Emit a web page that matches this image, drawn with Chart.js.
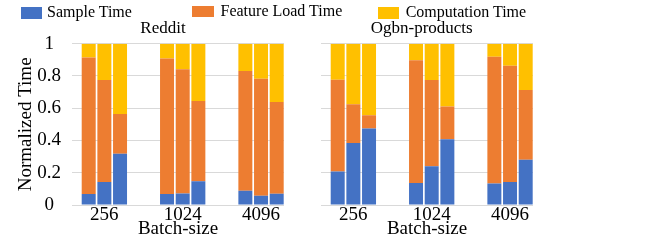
<!DOCTYPE html>
<html>
<head>
<meta charset="utf-8">
<script src="https://cdn.jsdelivr.net/npm/chart.js@4.4.1/dist/chart.umd.min.js"></script>
<style>
  body { margin: 0; background: #fff; }
  #wrap { position: relative; width: 659px; height: 249px; overflow: hidden; background: #fff; }
  canvas { position: absolute; top: 0; }
  .lg-box { position: absolute; }
  .lg-text { position: absolute; font: 16px/16px 'Liberation Serif', 'Times New Roman', serif; color: #000; white-space: nowrap; }
</style>
</head>
<body>
<div id="wrap">
  <canvas id="reddit-chart" width="326" height="249" style="left:0px"></canvas>
  <canvas id="ogbn-chart" width="233" height="249" style="left:300px"></canvas>
</div>
<script>
// Dati (tempo normalizzato, 3 barre per ogni batch-size)
const batchSizes = ['256', '1024', '4096'];
const seriesNames = ['Sample Time', 'Feature Load Time', 'Computation Time'];
const seriesColors = ['#4472C4', '#ED7D31', '#FFC000'];

const redditSample  = [0.068, 0.143, 0.318, 0.068, 0.072, 0.147, 0.089, 0.058, 0.070];
const redditFeature = [0.847, 0.632, 0.246, 0.841, 0.769, 0.498, 0.742, 0.725, 0.568];
const redditCompute = [0.085, 0.225, 0.436, 0.091, 0.159, 0.355, 0.169, 0.217, 0.362];

const ogbnSample  = [0.207, 0.384, 0.475, 0.136, 0.240, 0.407, 0.134, 0.143, 0.281];
const ogbnFeature = [0.570, 0.240, 0.081, 0.761, 0.535, 0.203, 0.785, 0.721, 0.432];
const ogbnCompute = [0.223, 0.376, 0.444, 0.103, 0.225, 0.390, 0.081, 0.136, 0.287];

const FONT = "'Liberation Serif', 'Times New Roman', serif";
const GRID = '#d9d9d9';

// posizione della barra sull'asse x: 3 barre per gruppo + 2 slot vuoti
function slotOf(i) {
    return Math.floor(i / 3) * 5 + (i % 3);
}

function toPoints(values) {
    return values.map((v, i) => ({ x: slotOf(i), y: v }));
}

// Legenda HTML comune ai due grafici
const legendPos = [
    { box: [20.7, 6.7, 21.6, 12.3], text: [47, 3.9] },
    { box: [192.3, 5.5, 21.6, 11.5], text: [220.5, 2.6] },
    { box: [378.3, 7.3, 21, 11.7], text: [405.7, 3.9] }
];
const wrap = document.getElementById('wrap');
seriesNames.forEach((name, i) => {
    const p = legendPos[i];
    const box = document.createElement('div');
    box.className = 'lg-box';
    box.style.left = p.box[0] + 'px';
    box.style.top = p.box[1] + 'px';
    box.style.width = p.box[2] + 'px';
    box.style.height = p.box[3] + 'px';
    box.style.background = seriesColors[i];
    wrap.appendChild(box);
    const txt = document.createElement('div');
    txt.className = 'lg-text';
    txt.style.left = p.text[0] + 'px';
    txt.style.top = p.text[1] + 'px';
    txt.textContent = name;
    wrap.appendChild(txt);
});

function makeChart(canvasId, title, sample, feature, compute, isLeft) {
    const canvas = document.getElementById(canvasId);
    const scales = {
        x: {
            type: 'linear',
            min: -1.066,
            max: 12.466,
            bounds: 'data',
            offset: false,
            stacked: true,
            grid: { display: false, drawTicks: false },
            border: { display: false },
            afterBuildTicks: (scale) => {
                scale.ticks = batchSizes.map((_, g) => ({ value: g * 5 + 1 }));
            },
            afterFit: (scale) => { scale.height = 44; },
            ticks: {
                padding: 1,
                color: '#000',
                font: { family: FONT, size: 19, lineHeight: 1 },
                maxRotation: 0,
                autoSkip: false,
                callback: (value, index) => batchSizes[index]
            },
            title: {
                display: true,
                text: 'Batch-size',
                color: '#000',
                font: { family: FONT, size: 19, lineHeight: 1 },
                padding: { top: 0, bottom: 10 }
            }
        },
        y: {
            stacked: true,
            min: 0,
            max: 1,
            grid: { color: GRID, lineWidth: 1, drawTicks: false },
            border: { display: false },
            afterFit: (scale) => { scale.width = isLeft ? 72 : 10.6; },
            ticks: {
                display: isLeft,
                stepSize: 0.2,
                padding: 11,
                crossAlign: 'center',
                color: '#000',
                font: { family: FONT, size: 19 },
                callback: (value) => String(Math.round(value * 10) / 10)
            },
            title: {
                display: isLeft,
                text: 'Normalized Time',
                color: '#000',
                font: { family: FONT, size: 19, lineHeight: 1 },
                padding: { top: 17, bottom: 0 }
            }
        }
    };
    if (isLeft) {
        // asse fittizio a destra per centrare il titolo come nell'originale
        scales.yr = {
            position: 'right',
            display: true,
            grid: { display: false },
            border: { display: false },
            ticks: { display: false },
            afterFit: (scale) => { scale.width = 42; }
        };
    }
    return new Chart(canvas, {
        type: 'bar',
        data: {
            datasets: [
                { label: seriesNames[0], data: toPoints(sample), backgroundColor: seriesColors[0] },
                { label: seriesNames[1], data: toPoints(feature), backgroundColor: seriesColors[1] },
                { label: seriesNames[2], data: toPoints(compute), backgroundColor: seriesColors[2] }
            ]
        },
        options: {
            responsive: false,
            animation: false,
            events: [],
            datasets: {
                bar: { categoryPercentage: 1, barPercentage: 0.893, borderWidth: 0 }
            },
            layout: { padding: { top: 18.3, left: isLeft ? 0 : 10.4, right: 0, bottom: 0 } },
            plugins: {
                legend: { display: false },
                tooltip: { enabled: false },
                title: {
                    display: true,
                    text: title,
                    color: '#000',
                    font: { family: FONT, size: 17, weight: 'normal' },
                    padding: { top: 0, bottom: 5 }
                }
            },
            scales: scales
        }
    });
}

makeChart('reddit-chart', 'Reddit', redditSample, redditFeature, redditCompute, true);
makeChart('ogbn-chart', 'Ogbn-products', ogbnSample, ogbnFeature, ogbnCompute, false);
</script>
</body>
</html>
